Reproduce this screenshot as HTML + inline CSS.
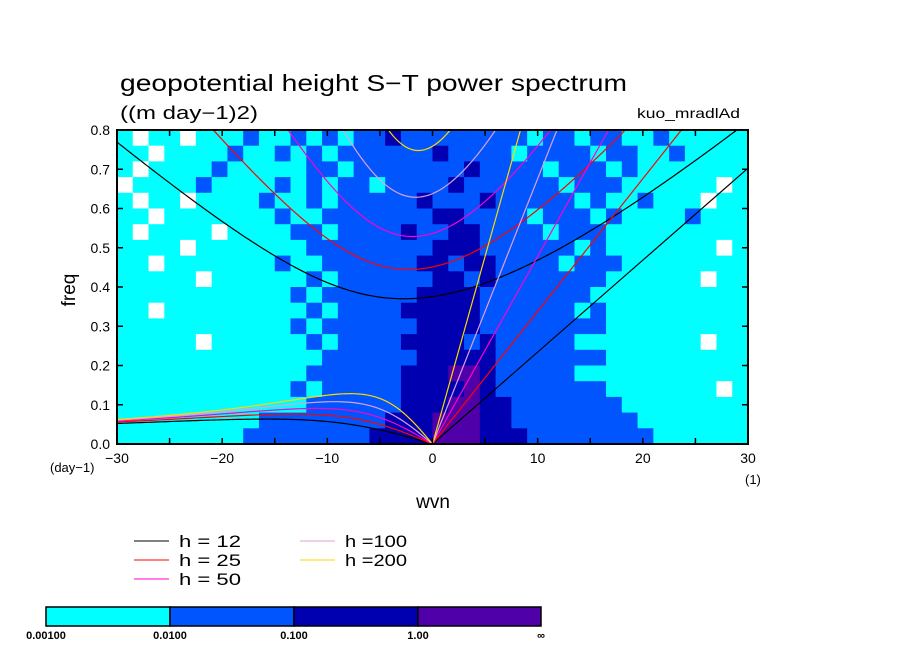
<!DOCTYPE html>
<html><head><meta charset="utf-8">
<style>
body{margin:0;background:#fff;}
svg{display:block;font-family:"Liberation Sans",sans-serif;}
</style></head>
<body>
<svg id="chart" width="904" height="654" viewBox="0 0 904 654" xmlns="http://www.w3.org/2000/svg">
<defs><clipPath id="pc"><rect x="117" y="130" width="631" height="314"/></clipPath></defs>
<text x="120" y="91" font-size="23" textLength="507" lengthAdjust="spacingAndGlyphs" fill="#000">geopotential height S−T power spectrum</text>
<text x="120" y="119" font-size="18" textLength="138" lengthAdjust="spacingAndGlyphs" fill="#000">((m day−1)2)</text>
<text x="637" y="118" font-size="14" textLength="103" lengthAdjust="spacingAndGlyphs" fill="#000">kuo_mradlAd</text>
<g id="field" clip-path="url(#pc)"></g>
<g id="curves" clip-path="url(#pc)"></g>
<rect x="117" y="130" width="631" height="314" fill="none" stroke="#000" stroke-width="2"/>
<g id="axes"></g>
<text x="75" y="290" font-size="19" text-anchor="middle" transform="rotate(-90 75 290)">freq</text>
<text x="433" y="508" font-size="19" text-anchor="middle">wvn</text>
<text x="50" y="472" font-size="13">(day−1)</text>
<text x="745" y="484" font-size="13">(1)</text>
<g id="legend"></g>
<g id="cbar"></g>
</svg>
<script>
const NS="http://www.w3.org/2000/svg";
const depths=[12,25,50,100,200];
const depthColors=["#000000","#ff0000","#ff00cc","#dda0dd","#ffd700"];
const xTicks=[-30,-20,-10,0,10,20,30];
const yTicks=[0,0.1,0.2,0.3,0.4,0.5,0.6,0.7,0.8];
const levelColors=["#ffffff","#00ffff","#0055ff","#0000b0","#5000a8"];
const levelLabels=["0.00100","0.0100","0.100","1.00","∞"];
const fieldRows=[
"1011011121121212232222222212212211211111",
"1101111211212122222232222122221221121111",
"1011112111112212222222322221222121111111",
"0111121111212122122223222222122211111101",
"1011011112112122222322232222212112111011",
"1101111111211222222233222212221211112111",
"1011110111122122223223322221222111111111",
"1111011111112222222233322222212111111101",
"1101111111211222222332332222122211111111",
"1111101111112122222233232222222111111011",
"1111111111121222222333322222221111111111",
"1101111111112122223333322222212111111111",
"1111111111121222222333322222222111111111",
"1111101111112122223333232222211111111011",
"1111111111111222222333332222222111111111",
"1111111111112222223334432222211111111111",
"1111111111121222223333432222222111111101",
"1111111111112222223334433222222211111111",
"1111111112222222233344433222222221111111",
"1111111122222222333344433322222222111111"];
const X0=117,X1=748,Y0=444,Y1=130;
const xs=v=>X0+(v+30)/60*(X1-X0);
const ys=v=>Y0-v/0.8*(Y0-Y1);
function el(t,a,p){const e=document.createElementNS(NS,t);for(const k in a)e.setAttribute(k,a[k]);p.appendChild(e);return e;}
const field=document.getElementById('field');
const nr=fieldRows.length,nc=40;
for(let r=0;r<nr;r++){for(let c=0;c<nc;c++){
  const lv=+(fieldRows[r][c]||'1');
  const w0=-30+60*c/nc,w1=-30+60*(c+1)/nc,f1=0.8-0.8*r/nr,f0=0.8-0.8*(r+1)/nr;
  const e=el('rect',{x:xs(w0),y:ys(f1),width:xs(w1)-xs(w0)+0.5,height:ys(f0)-ys(f1)+0.5,fill:levelColors[lv]},field);
  
  
}}
const beta=2.29e-11,a=6.371e6,g=9.81,cpd=86400/(2*Math.PI);
function solve(c,k,w){for(let i=0;i<60;i++){const f=w*w*w-c*c*(k*k+3*beta/c)*w-beta*c*c*k;const d=3*w*w-c*c*(k*k+3*beta/c);w-=f/d;}return w;}
const curves=document.getElementById('curves');
depths.forEach((h,i)=>{
  const c=Math.sqrt(g*h);
  let ig=[],ro=[];
  for(let s=-30;s<=30.001;s+=0.25){const k=s/a;
    ig.push(xs(s)+','+ys(solve(c,k,1e-3)*cpd));
    if(s<=0){const w0=-beta*k/(k*k+3*beta/c);ro.push(xs(s)+','+ys((s===0?0:solve(c,k,w0))*cpd));}
  }
  const kel=[xs(0)+','+ys(0),xs(30)+','+ys(c*30/a*cpd)];
  [[ig,'ig'],[ro,'rossby'],[kel,'kelvin']].forEach(([pts,nm])=>{
    const e=el('polyline',{points:pts.join(' '),fill:'none',stroke:depthColors[i],'stroke-width':1.2},curves);
    
    
  });
});
const axes=document.getElementById('axes');
xTicks.forEach(v=>{
  const t=el('text',{x:xs(v),y:463,'font-size':14,'text-anchor':'middle'},axes);t.textContent=String(v).replace('-','−');
  
  
});
for(let v=-30;v<=30;v+=5){el('line',{x1:xs(v),x2:xs(v),y1:Y0,y2:Y0-6,stroke:'#000','stroke-width':1.5},axes);el('line',{x1:xs(v),x2:xs(v),y1:Y1,y2:Y1+6,stroke:'#000','stroke-width':1.5},axes);}
yTicks.forEach(v=>{
  const t=el('text',{x:110,y:ys(v)+5,'font-size':14,'text-anchor':'end'},axes);t.textContent=v.toFixed(1);
  
  
  el('line',{x1:X0,x2:X0+6,y1:ys(v),y2:ys(v),stroke:'#000','stroke-width':1.5},axes);
  el('line',{x1:X1,x2:X1-6,y1:ys(v),y2:ys(v),stroke:'#000','stroke-width':1.5},axes);
});
const leg=document.getElementById('legend');
const legPos=[[134,541],[134,560],[134,579],[300,541],[300,560]];
const legText=["h = 12","h = 25","h = 50","h =100","h =200"];
depths.forEach((h,i)=>{
  const [x,y]=legPos[i];
  const l=el('line',{x1:x,x2:x+35,y1:y,y2:y,stroke:depthColors[i],'stroke-width':1},leg);
  
  
  const t=el('text',{x:x+45,y:y+6,'font-size':17,textLength:62,lengthAdjust:'spacingAndGlyphs'},leg);t.textContent=legText[i];
  
  
});
const cb=document.getElementById('cbar');
const cbx=[46,170,294,418,541];
for(let i=0;i<4;i++){
  const r=el('rect',{x:cbx[i],y:607,width:cbx[i+1]-cbx[i],height:19,fill:levelColors[i+1],stroke:'#000','stroke-width':1.5},cb);
  
  
}
levelLabels.forEach((s,i)=>{
  const t=el('text',{x:cbx[i],y:639,'font-size':11,'font-weight':'bold','text-anchor':'middle'},cb);t.textContent=s;
  
  
});
</script>
</body></html>
